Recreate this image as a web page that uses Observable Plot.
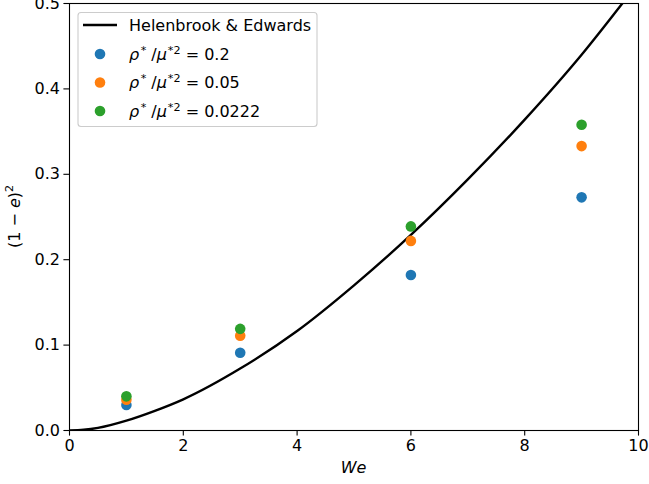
<!DOCTYPE html>
<html><head><meta charset="utf-8">
<script src="https://cdn.jsdelivr.net/npm/d3@7"></script>
<script src="https://cdn.jsdelivr.net/npm/@observablehq/plot@0.6"></script>
<style>body{margin:0;background:#fff;overflow:hidden;} svg{overflow:visible}</style>
</head><body><div id="chart"></div>
<script>
// ---- data ----
const weValues = [1, 3, 6, 9];
const seriesNames = ["0.2", "0.05", "0.0222"];
const seriesColors = ["#1f77b4", "#ff7f0e", "#2ca02c"];
const values02 = [0.030, 0.091, 0.182, 0.273];
const values005 = [0.036, 0.111, 0.222, 0.333];
const values00222 = [0.040, 0.119, 0.239, 0.358];
const curveLabel = "Helenbrook & Edwards";
const curveWe = [0, 0.25, 0.5, 1, 1.5, 2, 3, 4, 5, 6, 7, 8, 9, 9.75];
const curveVal = [0, 0.0008, 0.003, 0.0115, 0.023, 0.0365, 0.0725, 0.1165, 0.170, 0.229, 0.294, 0.364, 0.440, 0.503];
const xTicks = [0, 2, 4, 6, 8, 10];
const yTicks = [0, 0.1, 0.2, 0.3, 0.4, 0.5];

const seriesVals = [values02, values005, values00222];
const points = [];
seriesNames.forEach((s, i) => weValues.forEach((w, j) => points.push({We: w, v: seriesVals[i][j], s})));
const curve = curveWe.map((w, i) => ({We: w, v: curveVal[i]}));

const W = 649, H = 484, mL = 69, mR = 11, mT = 3, mB = 54;
const fs = 16;
const dotR = 5.3;

const plot = Plot.plot({
  width: W, height: H,
  marginLeft: mL, marginRight: mR, marginTop: mT, marginBottom: mB,
  style: {fontFamily: "DejaVu Sans", fontSize: fs + "px", background: "white", color: "black"},
  x: {domain: [0, 10]},
  y: {domain: [0, 0.5]},
  color: {domain: seriesNames, range: seriesColors},
  marks: [
    Plot.line(curve, {x: "We", y: "v", stroke: "black", strokeWidth: 2.4, curve: "monotone-x", clip: true}),
    Plot.dot(points, {x: "We", y: "v", fill: "s", r: dotR}),
    Plot.frame({stroke: "black", strokeWidth: 1.1}),
    Plot.axisX({ticks: xTicks, tickSize: 5.6, tickPadding: 4, label: null, fontSize: fs, strokeWidth: 1.1}),
    Plot.axisY({ticks: yTicks, tickSize: 5.6, tickPadding: 4, tickFormat: d3.format(".1f"), label: null, fontSize: fs, strokeWidth: 1.1})
  ]
});
document.getElementById("chart").appendChild(plot);

const svg = d3.select(plot);
// axis labels
const xs = (mL + W - mR) / 2;
svg.append("text").attr("x", xs).attr("y", 473).attr("text-anchor", "middle")
  .attr("font-family", "DejaVu Sans").attr("font-size", fs).attr("font-style", "italic").text("We");
const yl = svg.append("text").attr("transform", `translate(20,${(mT + H - mB) / 2}) rotate(-90)`)
  .attr("text-anchor", "middle").attr("font-family", "DejaVu Sans").attr("font-size", fs);
yl.append("tspan").text("(1 − ");
yl.append("tspan").attr("font-style", "italic").text("e");
yl.append("tspan").text(")");
yl.append("tspan").attr("font-size", fs * 0.7).attr("dy", -7).text("2");

// legend
const lg = svg.append("g").attr("text-anchor", "start");
lg.append("rect").attr("x", 78).attr("y", 12.5).attr("width", 239).attr("height", 114).attr("rx", 3)
  .attr("fill", "white").attr("fill-opacity", 0.8).attr("stroke", "#cccccc").attr("stroke-width", 1.1);
const rowY = [25, 54, 82.5, 111];
lg.append("line").attr("x1", 83).attr("x2", 117).attr("y1", rowY[0]).attr("y2", rowY[0])
  .attr("stroke", "black").attr("stroke-width", 2.4);
lg.append("text").attr("x", 129).attr("y", rowY[0] + 5.8).attr("text-anchor", "start")
  .attr("font-family", "DejaVu Sans").attr("font-size", fs).text(curveLabel);
seriesNames.forEach((s, i) => {
  const y = rowY[i + 1];
  lg.append("circle").attr("cx", 100).attr("cy", y).attr("r", dotR).attr("fill", seriesColors[i]);
  const t = lg.append("text").attr("x", 129).attr("y", y + 5.8).attr("text-anchor", "start")
    .attr("font-family", "DejaVu Sans").attr("font-size", fs);
  t.append("tspan").attr("font-style", "italic").text("ρ");
  t.append("tspan").attr("font-size", fs * 0.7).attr("dy", -6).attr("dx", 1.5).text("*");
  t.append("tspan").attr("dy", 6).attr("dx", 5).text("/");
  t.append("tspan").attr("font-style", "italic").text("μ");
  t.append("tspan").attr("font-size", fs * 0.7).attr("dy", -6).attr("dx", 1).text("*2");
  t.append("tspan").attr("dy", 6).text(" = " + s);
});
</script>
</body></html>
